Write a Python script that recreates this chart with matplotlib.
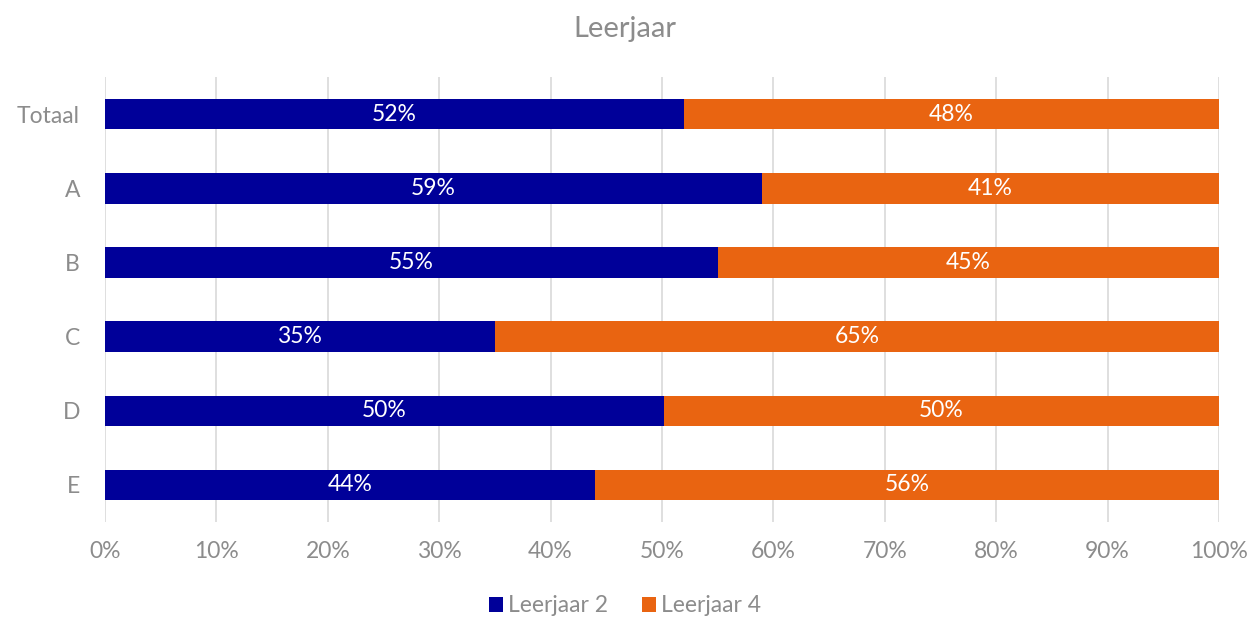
import matplotlib.pyplot as plt
import numpy as np

plt.rcParams['font.family'] = ['Lato', 'DejaVu Sans']

categories = ["Totaal", "A", "B", "C", "D", "E"]
leerjaar2 = [52, 59, 55, 35, 50.2, 44]
leerjaar4 = [48, 41, 45, 65, 49.8, 56]
labels2 = ["52%", "59%", "55%", "35%", "50%", "44%"]
labels4 = ["48%", "41%", "45%", "65%", "50%", "56%"]

blue = "#000099"
orange = "#E96411"
grey = "#8c8c8c"

fig = plt.figure(figsize=(12.5, 6.17), dpi=100)
ax = fig.add_axes([0.084, 0.154, 0.8912, 0.721])

y = np.arange(len(categories))
b2 = ax.barh(y, leerjaar2, height=0.41, color=blue, label="Leerjaar 2", zorder=3)
b4 = ax.barh(y, leerjaar4, left=leerjaar2, height=0.41, color=orange, label="Leerjaar 4", zorder=3)

for i in range(len(categories)):
    ax.text(leerjaar2[i] / 2, y[i], labels2[i], color="white", ha="center", va="center", fontsize=16.5, zorder=4)
    ax.text(leerjaar2[i] + leerjaar4[i] / 2, y[i], labels4[i], color="white", ha="center", va="center", fontsize=16.5, zorder=4)

ax.set_xlim(0, 100)
ax.set_ylim(len(categories) - 0.5, -0.5)
ax.set_yticks(y)
ax.set_yticklabels(categories)
ax.set_xticks(np.arange(0, 101, 10))
ax.set_xticklabels([f"{v}%" for v in range(0, 101, 10)])
ax.tick_params(axis="both", colors=grey, labelsize=16.5, length=0)
ax.tick_params(axis="y", pad=18)
ax.tick_params(axis="x", pad=14)
ax.grid(axis="x", color="#d9d9d9", linewidth=1.2, zorder=0)
for s in ax.spines.values():
    s.set_visible(False)

fig.text(0.5, 0.953, "Leerjaar", ha="center", va="center", fontsize=21, color=grey)
fig.legend(handles=[b2, b4], loc="center", bbox_to_anchor=(0.5, 0.018), ncol=2, frameon=False,
           fontsize=16.5, labelcolor=grey, handlelength=0.6, handleheight=0.6, handletextpad=0.2, columnspacing=1.5)

fig.savefig("out.png", dpi=100)
